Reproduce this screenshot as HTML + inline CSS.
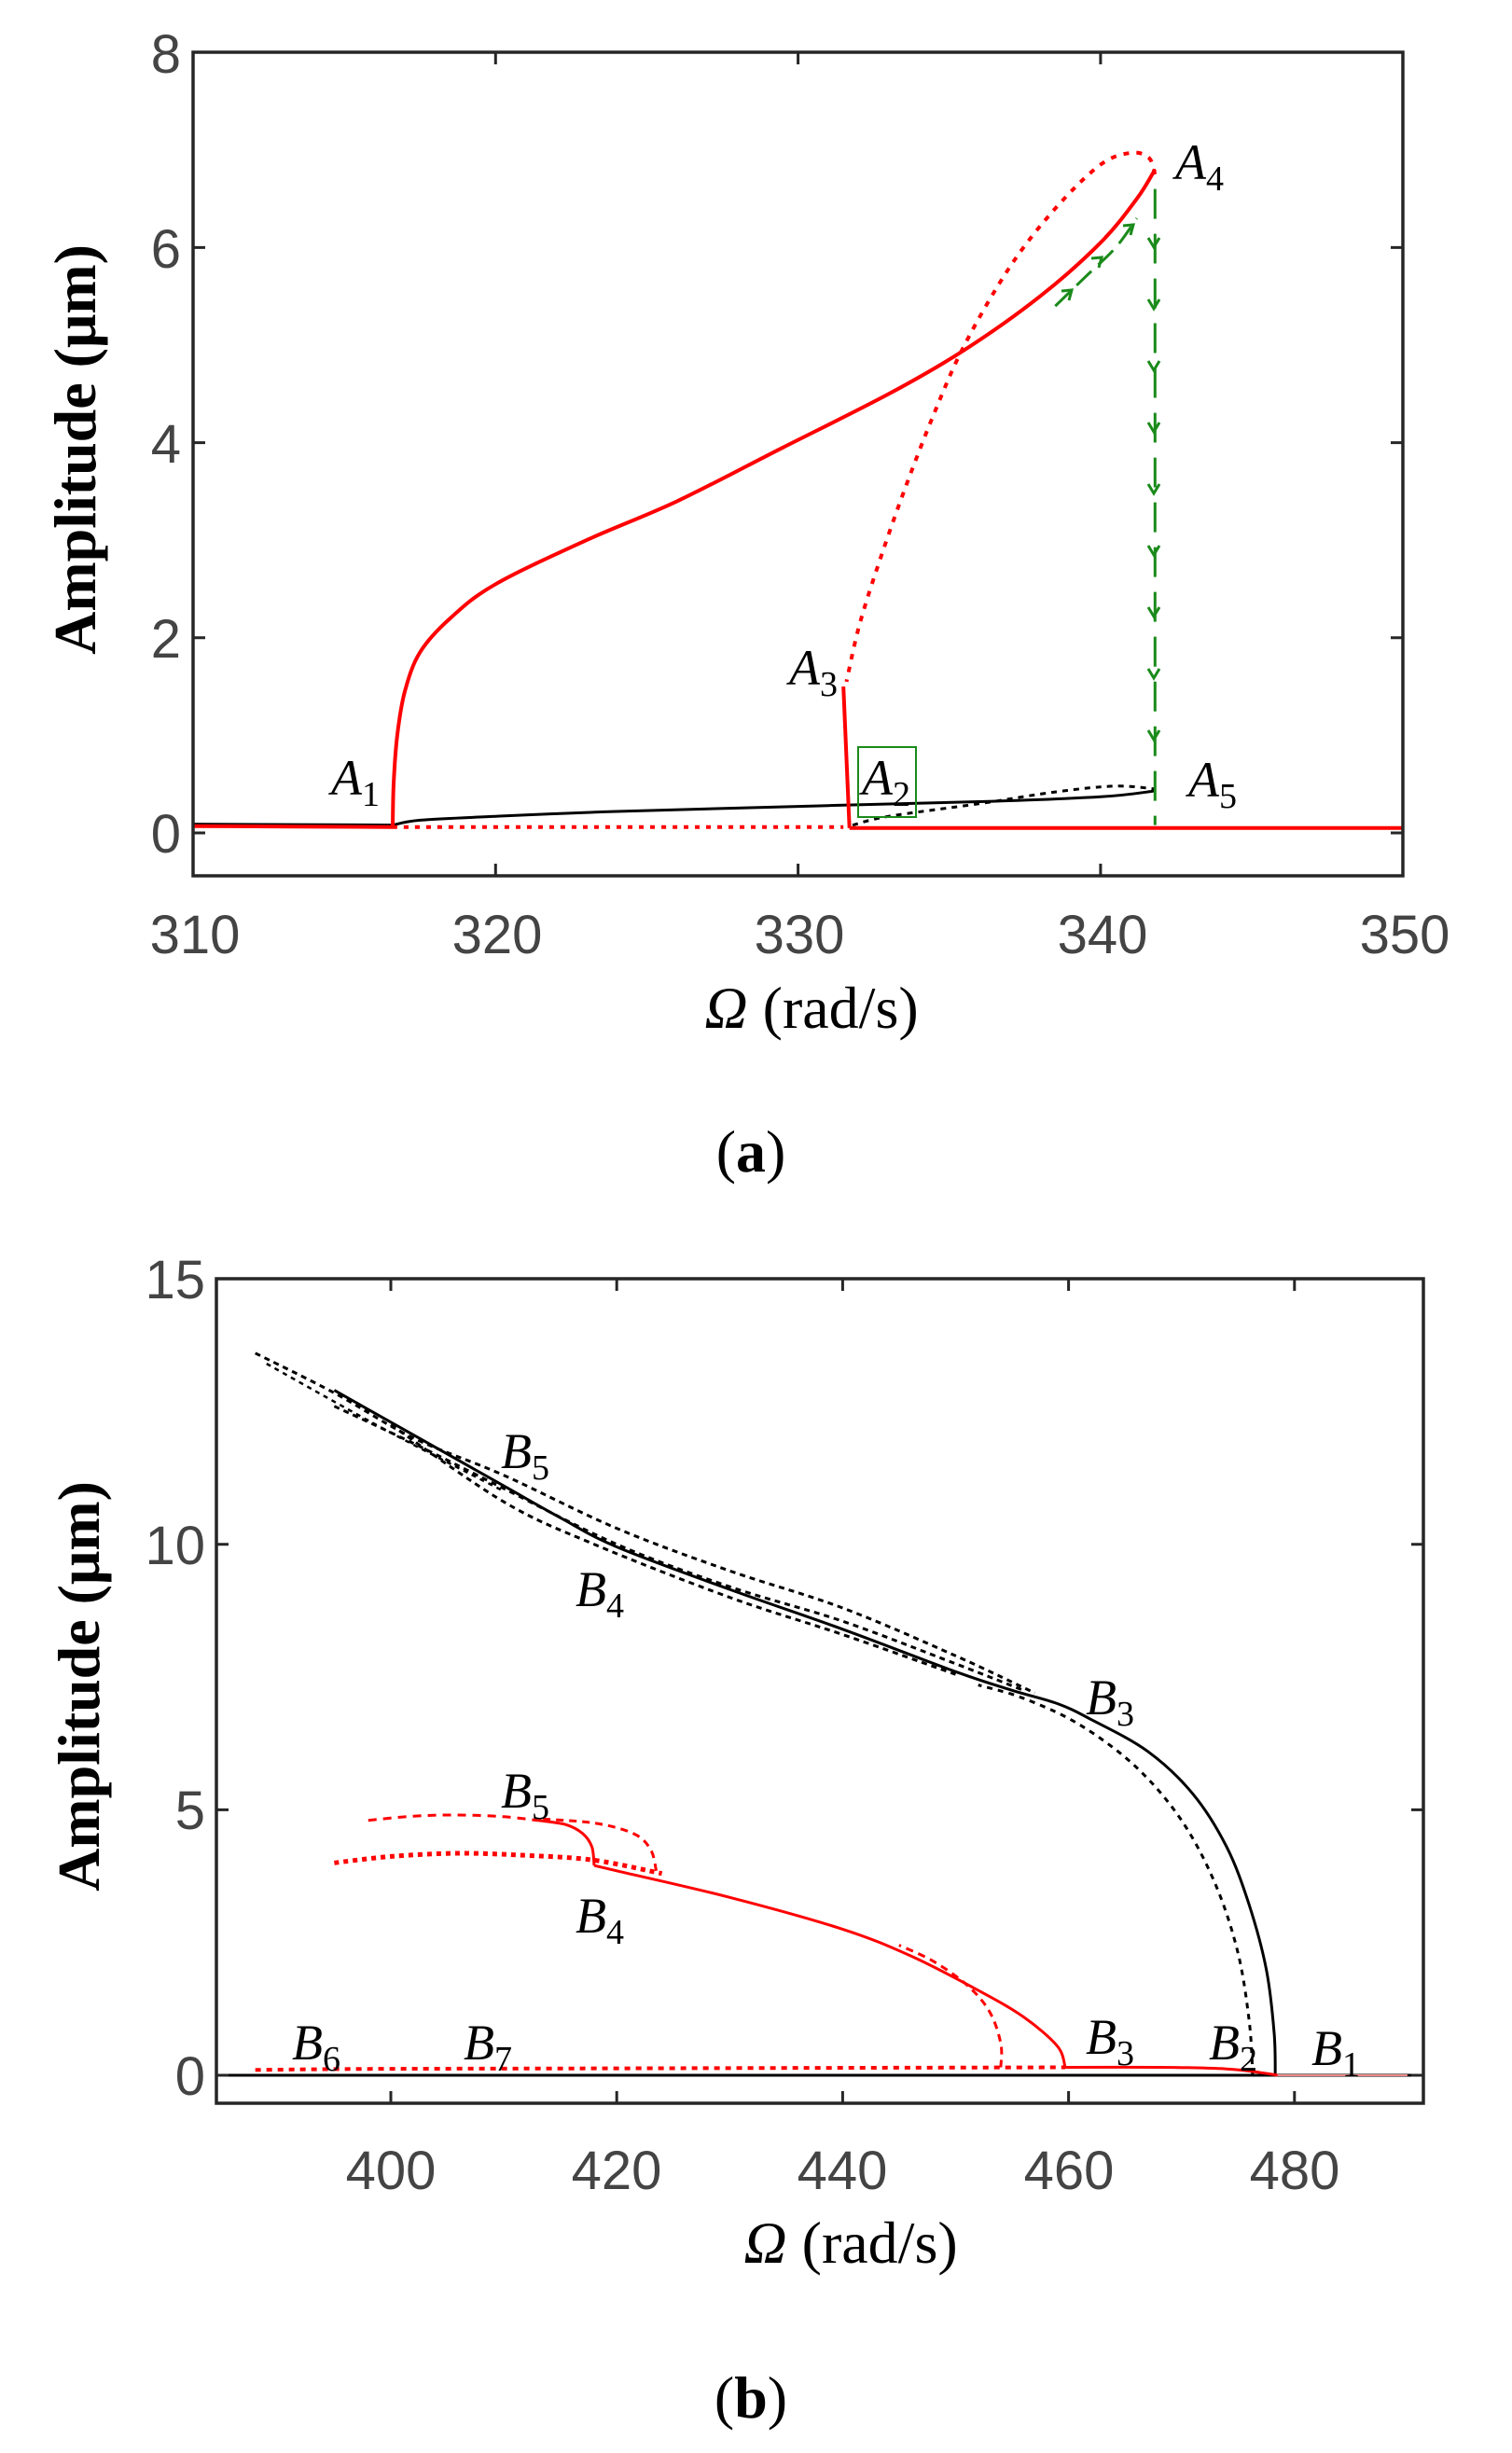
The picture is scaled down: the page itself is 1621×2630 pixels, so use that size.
<!DOCTYPE html>
<html><head><meta charset="utf-8">
<style>
html,body{margin:0;padding:0;background:#fff;}
svg{display:block;}
.tk{font-family:"Liberation Sans",sans-serif;font-size:58px;fill:#444;}
.lb{font-family:"Liberation Serif",serif;font-style:italic;font-size:54px;fill:#000;}
.sb{font-style:normal;font-size:38px;}
.ti{font-family:"Liberation Serif",serif;font-size:64px;fill:#000;}
</style></head>
<body>
<svg id="s" width="1621" height="2630" viewBox="0 0 1621 2630" xmlns="http://www.w3.org/2000/svg">
<rect width="1621" height="2630" fill="#fff"/>
<g id="g"></g>
<g class="tk" text-anchor="middle">
<text x="209" y="1022">310</text><text x="533" y="1022">320</text><text x="857" y="1022">330</text><text x="1182" y="1022">340</text><text x="1506" y="1022">350</text>
</g>
<g class="tk" text-anchor="end">
<text x="194" y="914">0</text><text x="194" y="705">2</text><text x="194" y="496">4</text><text x="194" y="287">6</text><text x="194" y="78">8</text>
</g>
<text class="ti" transform="translate(102,482) rotate(-90)" text-anchor="middle" font-weight="bold" font-size="68">Amplitude (μm)</text>
<text class="ti" x="870" y="1102" text-anchor="middle" font-size="66"><tspan font-style="italic">Ω</tspan> (rad/s)</text>
<text class="ti" x="805" y="1256" text-anchor="middle">(<tspan font-weight="bold">a</tspan>)</text>
<g class="lb">
<text x="355" y="852">A<tspan class="sb" dy="12">1</tspan></text>
<text x="924" y="852">A<tspan class="sb" dy="12">2</tspan></text>
<text x="846" y="734">A<tspan class="sb" dy="12">3</tspan></text>
<text x="1260" y="192">A<tspan class="sb" dy="12">4</tspan></text>
<text x="1274" y="854">A<tspan class="sb" dy="12">5</tspan></text>
</g>
<rect x="920" y="801" width="62" height="75" fill="none" stroke="#1a8a1a" stroke-width="2"/>
<g class="tk" text-anchor="middle">
<text x="419" y="2347">400</text><text x="661" y="2347">420</text><text x="903" y="2347">440</text><text x="1146" y="2347">460</text><text x="1388" y="2347">480</text>
</g>
<g class="tk" text-anchor="end">
<text x="220" y="2246">0</text><text x="220" y="1961">5</text><text x="220" y="1677">10</text><text x="220" y="1392">15</text>
</g>
<text class="ti" transform="translate(106,1808) rotate(-90)" text-anchor="middle" font-weight="bold" font-size="68">Amplitude (μm)</text>
<text class="ti" x="912" y="2426" text-anchor="middle" font-size="66"><tspan font-style="italic">Ω</tspan> (rad/s)</text>
<text class="ti" x="805" y="2592" text-anchor="middle">(<tspan font-weight="bold">b</tspan>)</text>
<g class="lb">
<text x="537" y="1574">B<tspan class="sb" dy="12">5</tspan></text>
<text x="617" y="1722">B<tspan class="sb" dy="12">4</tspan></text>
<text x="1164" y="1838">B<tspan class="sb" dy="12">3</tspan></text>
<text x="537" y="1938">B<tspan class="sb" dy="12">5</tspan></text>
<text x="617" y="2072">B<tspan class="sb" dy="12">4</tspan></text>
<text x="1164" y="2202">B<tspan class="sb" dy="12">3</tspan></text>
<text x="1296" y="2208">B<tspan class="sb" dy="12">2</tspan></text>
<text x="1406" y="2214">B<tspan class="sb" dy="12">1</tspan></text>
<text x="313" y="2208">B<tspan class="sb" dy="12">6</tspan></text>
<text x="497" y="2208">B<tspan class="sb" dy="12">7</tspan></text>
</g>
</svg>
<script>
(function(){
var NS="http://www.w3.org/2000/svg",g=document.getElementById("g");
function el(t,a){var e=document.createElementNS(NS,t);for(var k in a)e.setAttribute(k,a[k]);g.appendChild(e);return e;}
function cr(p){
 var d="M"+p[0][0].toFixed(1)+" "+p[0][1].toFixed(1);
 for(var i=0;i<p.length-1;i++){var p0=p[i-1]||p[i],p1=p[i],p2=p[i+1],p3=p[i+2]||p2;
  var c1=[p1[0]+(p2[0]-p0[0])/6,p1[1]+(p2[1]-p0[1])/6],c2=[p2[0]-(p3[0]-p1[0])/6,p2[1]-(p3[1]-p1[1])/6];
  d+="C"+c1[0].toFixed(1)+" "+c1[1].toFixed(1)+" "+c2[0].toFixed(1)+" "+c2[1].toFixed(1)+" "+p2[0].toFixed(1)+" "+p2[1].toFixed(1);}
 return d;}
function A(p){return p.map(function(q){return [207+(q[0]-310)*32.43,893-q[1]*104.6];});}
function B(p){return p.map(function(q){return [419+(q[0]-400)*12.11,2225-q[1]*56.93];});}
function line(pts,col,w,dash){var a={d:cr(pts),fill:"none",stroke:col,"stroke-width":w,"stroke-linejoin":"round"};if(dash)a["stroke-dasharray"]=dash;return el("path",a);}
// Panel A
line(A([[310,0.09],[316.6,0.08]]),"#000",3);
line(A([[316.6,0.08],[317.5,0.13],[320,0.17],[324,0.22],[331,0.28],[336,0.32],[340,0.37],[341.8,0.43]]),"#000",3);
line(A([[331.8,0.08],[333,0.17],[336,0.3],[338.5,0.42],[340.5,0.48],[341.8,0.45]]),"#000",3,"6 6");
line(A([[316.6,0.06],[331.5,0.06]]),"#f00",4,"5 7");
line(A([[310,0.07],[316.6,0.06]]),"#f00",4);
line(A([[316.6,0.06],[316.63,0.5],[316.75,1.0],[317.0,1.45],[317.5,1.85],[318.5,2.2],[320,2.55],[323,3.0],[326,3.4],[329.5,3.95],[333,4.5],[335.5,4.95],[338,5.5],[340,6.05],[341.2,6.5],[341.8,6.8]]),"#f00",4);
line(A([[341.8,6.75],[341.6,6.92],[341,6.97],[340,6.85],[338.5,6.4],[337,5.8],[335.5,5.0],[334.5,4.3],[333.5,3.5],[332.6,2.7],[332,2.1],[331.6,1.55]]),"#f00",4,"6 8");
line(A([[331.5,1.5],[331.7,0.05]]),"#f00",4);
line(A([[331.7,0.05],[350,0.05]]),"#f00",4);
// green
line(A([[341.8,6.6],[341.8,0.08]]),"#1a8a1a",3,"32 16");
for(var i=0;i<9;i++){var y=265+i*66;el("path",{d:"M1231 "+(y-10)+"L1237 "+y+"L1243 "+(y-10),fill:"none",stroke:"#1a8a1a","stroke-width":3});}
line(A([[338.5,5.4],[339.5,5.7],[340.5,6.0],[341.2,6.3]]),"#1a8a1a",3,"22 10");
[[1149,311],[1181,276],[1215,241]].forEach(function(p){el("path",{d:"M"+(p[0]-11)+" "+(p[1]+1)+"L"+p[0]+" "+p[1]+"L"+(p[0]-3)+" "+(p[1]+11),fill:"none",stroke:"#1a8a1a","stroke-width":3});});
el("rect",{x:207,y:56,width:1297,height:883,fill:"none",stroke:"#262626","stroke-width":3.5});
[320,330,340].forEach(function(v){var x=207+(v-310)*32.43;el("path",{d:"M"+x+" 939v-13M"+x+" 56v13",stroke:"#262626","stroke-width":3});});
[0,2,4,6].forEach(function(v){var y=893-v*104.6;el("path",{d:"M207 "+y+"h13M1504 "+y+"h-13",stroke:"#262626","stroke-width":3});});
// Panel B
line(B([[384.6,0],[491,0]]),"#000",3);
line(B([[395,0],[408,0]]),"#000",3,"4 6");
line(B([[478.3,0],[478.2,0.8],[477.5,2],[476,3.2],[474,4.3],[471,5.3],[467,6.1],[462,6.7],[459,7.0],[455,7.25],[450,7.6],[440,8.4],[430,9.15],[420,9.95],[415,10.5],[410,11.1],[405,11.7],[400,12.3],[395,12.9]]),"#000",3);
line(B([[476.3,0],[476,1],[475,2.3],[473,3.6],[470,4.8],[466,5.8],[461,6.6],[456,7.1],[452,7.35]]),"#000",3,"6 6");
line(B([[388,13.6],[395,12.85],[402,12.0],[410,11.3],[420,10.3],[430,9.5],[440,8.8],[450,7.9],[457,7.2]]),"#000",3,"6 5");
line(B([[395,12.6],[402,11.9],[410,11.05],[420,10.0],[430,9.2],[440,8.55],[450,7.75],[456,7.25]]),"#000",3,"6 5");
line(B([[400,12.25],[410,10.8],[418,10.0],[430,9.0],[440,8.3],[450,7.55]]),"#000",3,"6 5");
line(B([[389,13.4],[400,12.1],[410,11.0]]),"#000",2.5,"5 5");
line(B([[388,0.1],[398,0.12],[420,0.13],[459.7,0.15]]),"#f00",4,"6 6");
line(B([[459.7,0.15],[468,0.15],[474,0.12],[477,0.05],[478.5,0]]),"#f00",3);
line(B([[478.5,0],[490,0]]),"#e88",2);
line(B([[459.7,0.15],[459,0.55],[456,1.1],[452,1.6],[446,2.25],[440,2.75],[430,3.35],[420,3.85],[418,3.95]]),"#f00",3);
line(B([[418,3.95],[417.8,4.3],[417,4.55],[415.5,4.72],[413,4.8]]),"#f00",3);
line(B([[398,4.8],[402,4.88],[406,4.9],[410,4.87],[413,4.8]]),"#f00",3,"9 7");
line(B([[423.5,3.85],[423,4.25],[421.5,4.55],[418,4.75],[413,4.83]]),"#f00",3,"8 6");
line(B([[395,4.0],[400,4.12],[406,4.18],[412,4.14],[418,4.05],[424,3.8]]),"#f00",5,"5 5");
line(B([[454,0.15],[454,0.6],[453,1.2],[451,1.7],[448,2.15],[445,2.45]]),"#f00",3,"8 6");
el("rect",{x:232,y:1371,width:1294,height:884,fill:"none",stroke:"#262626","stroke-width":3.5});
[400,420,440,460,480].forEach(function(v){var x=419+(v-400)*12.11;el("path",{d:"M"+x+" 2255v-13M"+x+" 1371v13",stroke:"#262626","stroke-width":3});});
[0,5,10].forEach(function(v){var y=2225-v*56.93;el("path",{d:"M232 "+y+"h13M1526 "+y+"h-13",stroke:"#262626","stroke-width":3});});
})();
</script>
</body></html>
